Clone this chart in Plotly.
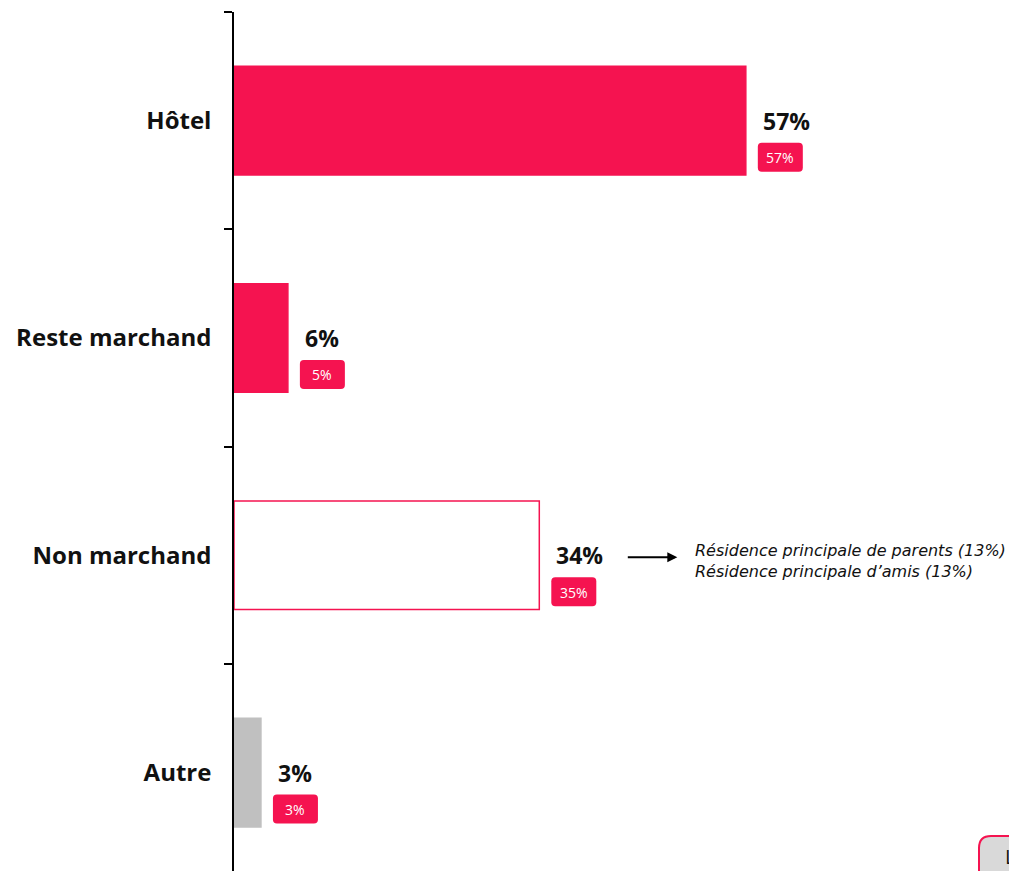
import plotly.graph_objects as go

# ---------------------------------------
# Data
# ---------------------------------------

categories = ["Hôtel", "Reste marchand", "Non marchand", "Autre"]
values = [57, 6, 34, 3]
badge_values = [57, 5, 35, 3]
bar_colors = ["#F51350", "#F51350", "#FFFFFF", "#C0C0C0"]
line_colors = ["#F51350", "#F51350", "#F51350", "#C0C0C0"]
detail_lines = [
    "Résidence principale de parents (13%)",
    "Résidence principale d’amis (13%)"
]
detail_category = "Non marchand"

PINK = "#F51350"
FONT = "Open Sans"


def rounded_rect(x0, y0, x1, y1, r):
    # pixel path, y grows upward
    return (
        f"M {x0 + r},{y0} L {x1 - r},{y0} Q {x1},{y0} {x1},{y0 - r} "
        f"L {x1},{y1 + r} Q {x1},{y1} {x1 - r},{y1} "
        f"L {x0 + r},{y1} Q {x0},{y1} {x0},{y1 + r} "
        f"L {x0},{y0 - r} Q {x0},{y0} {x0 + r},{y0} Z"
    )


fig = go.Figure(

    go.Bar(

        x=values,

        y=categories,

        orientation="h",

        width=0.5,

        marker=dict(color=bar_colors, line=dict(color=line_colors, width=1.5)),

        hoverinfo="skip"

    )

)

shapes = []
annotations = []

for i, (cat, val, badge) in enumerate(zip(categories, values, badge_values)):

    # main value label
    annotations.append(dict(
        x=val, y=cat, xref="x", yref="y",
        text=f"<b>{val}%</b>", showarrow=False,
        xanchor="left", yanchor="middle", xshift=15,
        font=dict(family=FONT, size=23, color="#111111")
    ))

    # rounded badge
    shapes.append(dict(
        type="path", xref="x", yref="y",
        xsizemode="pixel", ysizemode="pixel",
        xanchor=val, yanchor=i,
        path=rounded_rect(12, -22, 57, -51, 4),
        fillcolor=PINK, line=dict(width=0)
    ))

    annotations.append(dict(
        x=val, y=cat, xref="x", yref="y",
        text=f"{badge}%", showarrow=False,
        xanchor="center", yanchor="middle", xshift=34.5, yshift=-37,
        font=dict(family=FONT, size=14, color="#FFFFFF")
    ))

# arrow + detail text for "Non marchand"
detail_val = values[categories.index(detail_category)]

annotations.append(dict(
    x=detail_val, y=detail_category, xref="x", yref="y",
    text="", showarrow=True, arrowhead=2, arrowsize=1, arrowwidth=2,
    arrowcolor="#000000", ax=-51, ay=0, xshift=138, yshift=-2
))

annotations.append(dict(
    x=detail_val, y=detail_category, xref="x", yref="y",
    text="<br>".join(f"<i>{t}</i>" for t in detail_lines), showarrow=False,
    xanchor="left", yanchor="middle", align="left", xshift=154, yshift=-6,
    font=dict(family="DejaVu Sans", size=16, color="#111111")
))

# cut-off reading note in the bottom-right corner
shapes.append(dict(
    type="path", xref="paper", yref="paper", layer="below",
    xsizemode="pixel", ysizemode="pixel",
    xanchor=1, yanchor=0,
    path=rounded_rect(-38, 35, 150, -60, 12),
    fillcolor="#D9D9D9", line=dict(color=PINK, width=2)
))

annotations.append(dict(
    x=1, y=0, xref="paper", yref="paper",
    text="Lecture :<br>les résultats", showarrow=False,
    xanchor="left", yanchor="top", align="left", xshift=-14, yshift=30,
    font=dict(family=FONT, size=20, color="#111111")
))

fig.update_layout(

    width=1009,

    height=863,

    margin=dict(l=226, r=0, t=4, b=0),

    plot_bgcolor="#FFFFFF",

    paper_bgcolor="#FFFFFF",

    showlegend=False,

    shapes=shapes,

    annotations=annotations,

    xaxis=dict(
        range=[0, 87.2], visible=False, showgrid=False, zeroline=False
    ),

    yaxis=dict(
        type="category",
        categoryorder="array",
        categoryarray=categories,
        range=[3.453, -0.5],
        showline=True, linecolor="#000000", linewidth=1.5,
        ticks="outside", tickson="boundaries", ticklen=8,
        tickwidth=1.5, tickcolor="#000000",
        ticklabelstandoff=16,
        showgrid=False, zeroline=False,
        tickfont=dict(family=FONT, size=24, color="#111111"),
        tickprefix="<b>", ticksuffix="</b>"
    )

)

fig.write_html("out.html")
